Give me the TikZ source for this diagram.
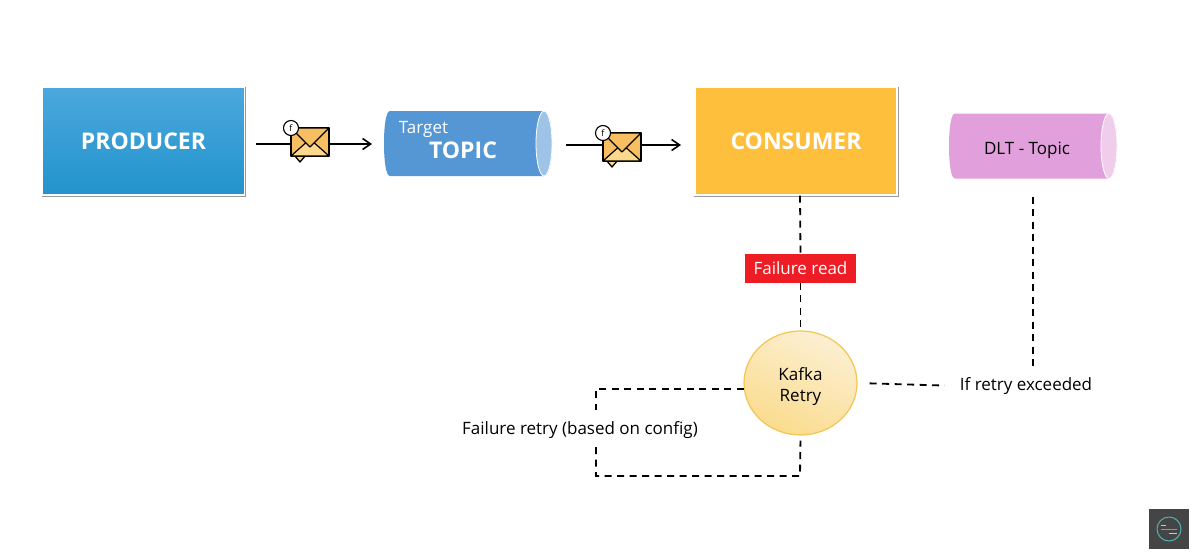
\documentclass[tikz,border=0pt]{standalone}
\usepackage{fontspec}
\setmainfont{Open Sans}
\usetikzlibrary{shapes.geometric,shadows,arrows.meta}
\definecolor{prodtop}{HTML}{4BA8DD}
\definecolor{prodmid}{HTML}{2EA6E0}
\definecolor{prodlow}{HTML}{2293CC}
\definecolor{consfill}{HTML}{FDBF3C}
\definecolor{topicfill}{HTML}{5596D4}
\definecolor{topicend}{HTML}{9DC3E6}
\definecolor{dltfill}{HTML}{E1A0DC}
\definecolor{dltend}{HTML}{EFCDEB}
\definecolor{failred}{HTML}{EE1C25}
\definecolor{retrylow}{HTML}{FBDC8E}
\definecolor{retrytop}{HTML}{FCEFD2}
\definecolor{retryline}{HTML}{F3C552}
\definecolor{mailfill}{HTML}{F8BE62}
\definecolor{maillow}{HTML}{FBD88C}
\definecolor{logogrey}{HTML}{454545}
\definecolor{logoteal}{HTML}{4FB3B3}
\newcommand{\pipeshape}[3]{
  \begin{scope}[shift={(#1.center)}]
  \fill[#2] (76,-32.5) .. controls (81,-32.5) and (84,-18) .. (84,0) .. controls (84,18) and (81,32.5) .. (76,32.5) -- (-78,32.5) .. controls (-82,32.5) and (-84,18) .. (-84,0) .. controls (-84,-18) and (-82,-32.5) .. (-78,-32.5) -- cycle;
  \draw[white,line width=.8pt,fill=#3] (76,0) ellipse [x radius=8,y radius=32.5];
  \end{scope}
}
\tikzset{
  boxnode/.style={draw=white,line width=1.2pt,minimum width=202,minimum height=108,inner sep=0,
    drop shadow={shadow xshift=.5pt,shadow yshift=-1pt,shadow scale=1.012,opacity=.4,fill=black},
    text=white,font=\fontsize{23}{25}\selectfont\bfseries},
  pipenode/.style={minimum width=168,minimum height=65,inner sep=0},
  flowline/.style={draw=black,line width=1.6pt,-{Straight Barb[length=8pt,width=11pt,line width=1.6pt]}},
  dashline/.style={draw=black,line width=1.8pt,dash pattern=on 7pt off 5.5pt},
  notenode/.style={inner sep=0,font=\fontsize{17}{20}\selectfont},
  mailicon/.pic={
    \draw[fill=maillow,line width=1.3pt,line join=round] (-16,13) -- (-10,20) -- (-4,13) -- cycle;
    \draw[fill=mailfill,line width=1.4pt,line join=round] (-19,-14) rectangle (19,14);
    \draw[fill=maillow,line width=1.2pt,line join=round] (-19,14) -- (0,-3) -- (19,14) -- cycle;
    \draw[fill=mailfill,line width=1.2pt,line join=round] (-19,-14) -- (0,5) -- (19,-14) -- cycle;
    \node[circle,draw=black,fill=white,line width=1.1pt,minimum size=15,inner sep=0,font=\fontsize{9}{9}\selectfont] at (-19,-14) {f};
  }
}
\begin{document}
\begin{tikzpicture}[x=1pt,y=-1pt]
\useasboundingbox (0,0) rectangle (1199,557);

\node[boxnode,top color=prodtop,middle color=prodmid,bottom color=prodlow] (producer) at (143.5,141) {PRODUCER};
\node[boxnode,fill=consfill] (consumer) at (796,141) {CONSUMER};

\node[pipenode] (topic) at (468,143.5) {};
\node[pipenode] (dlt) at (1033,146) {};
\pipeshape{topic}{topicfill}{topicend}
\pipeshape{dlt}{dltfill}{dltend}
\node[text=white,inner sep=0,font=\fontsize{17}{20}\selectfont] (targetlabel) at (423.5,129) {Target};
\node[text=white,inner sep=0,font=\fontsize{23}{25}\selectfont\bfseries] (topiclabel) at (463,150.5) {TOPIC};
\node[notenode] (dltlabel) at (1027,150) {DLT - Topic};

% message arrows
\coordinate (prodout) at (256,144);
\coordinate (topicin) at (372,144);
\coordinate (topicout) at (566,145);
\coordinate (consin) at (681,145);
\draw[flowline] (prodout) -- (topicin);
\draw[flowline] (topicout) -- (consin);
\pic at (310,142) {mailicon};
\pic at (622,147) {mailicon};

\node[fill=failred,text=white,minimum width=111,minimum height=29,inner sep=0,font=\fontsize{17}{20}\selectfont] (failread) at (800.5,268) {Failure read};
\node[ellipse,draw=retryline,line width=1.2pt,top color=retrytop,bottom color=retrylow,shading angle=-25,
  minimum width=113,minimum height=104,inner sep=0,align=center,font=\fontsize{17}{22}\selectfont] (kafka) at (800.5,383) {\rule{0pt}{21pt}Kafka\\[-1pt]Retry};
\node[notenode] (retrynote) at (580,430) {Failure retry (based on config)};
\node[notenode] (exceeded) at (1026,386) {If retry exceeded};

% dashed paths
\coordinate (loopup) at (596,410);
\coordinate (looplow) at (596,447);
\coordinate (loopcorner) at (800,476);
\draw[dashline] (consumer.south) ++(4,0) -- (failread.north);
\draw[dashline] (failread.south) -- (kafka.north);
\draw[dashline] (kafka.186) -| (loopup);
\draw[dashline,shorten >=5pt] (looplow) |- (loopcorner) -- (kafka.south);
\draw[dashline,shorten <=12pt,shorten >=15pt] (kafka.east) -- (exceeded.west);
\draw[dashline,shorten <=18pt,shorten >=6pt] (dlt.south) -- (dlt.south |- exceeded.north);

% logo
\fill[logogrey] (1149,509) rectangle (1189,549);
\node[circle,draw=logoteal,line width=1pt,minimum size=24,inner sep=0] (logo) at (1169,529) {};
\draw[white,line width=.8pt,opacity=.7] (1161,525) -- (1166,525) (1169,533) -- (1177,533);
\draw[logoteal,line width=.8pt] (1161,529) -- (1177,529);
\end{tikzpicture}
\end{document}
